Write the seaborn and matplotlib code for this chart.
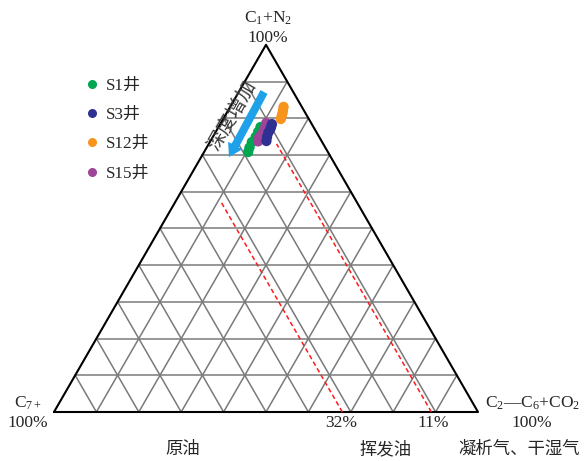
import numpy as np
import pandas as pd
import matplotlib
matplotlib.use("Agg")
import matplotlib.pyplot as plt
from matplotlib.lines import Line2D
import seaborn as sns

# Gas compositions (%): C1+N2 and C2-C6+CO2; C7+ is the remainder
wells = ["S1井", "S3井", "S12井", "S15井"]
s1_c1 = [77.6, 76.3, 74.9, 73.5, 72.0, 70.8]
s1_c2c6 = [9.9, 10.0, 10.1, 9.9, 10.1, 10.4]
s3_c1 = [78.4, 77.6, 76.9, 76.1, 74.9, 73.8]
s3_c2c6 = [12.2, 12.4, 12.5, 12.5, 12.8, 13.2]
s12_c1 = [83.1, 82.2, 81.4, 80.6, 79.8]
s12_c2c6 = [12.6, 12.9, 13.2, 13.4, 13.6]
s15_c1 = [78.7, 77.8, 76.8, 75.4, 74.6, 73.7]
s15_c2c6 = [10.7, 11.0, 11.1, 11.1, 11.0, 11.3]

# C7+ boundaries (%) separating oil / volatile oil / condensate gas
c7_bounds = [32, 11]
c7_bound_c1_top = [57, 73]
zone_names = ["原油", "挥发油", "凝析气、干湿气"]

colors = {"S1井": "#00a650", "S3井": "#2e3192", "S12井": "#f7941d", "S15井": "#a0449a"}

sns.set_theme(style="white")
plt.rcParams["font.family"] = ["Liberation Serif", "Noto Sans CJK SC"]
plt.rcParams["mathtext.fontset"] = "stix"
plt.rcParams["mathtext.default"] = "regular"

SQ = np.sqrt(3) / 2


def tern(c1, c2c6):
    """C1 fraction -> top vertex, C2-C6 fraction -> right vertex."""
    c1 = np.asarray(c1, float) / 100
    c2 = np.asarray(c2c6, float) / 100
    return c2 + c1 / 2, c1 * SQ


rows = []
for name, c1, c2 in [("S1井", s1_c1, s1_c2c6), ("S15井", s15_c1, s15_c2c6),
                     ("S3井", s3_c1, s3_c2c6), ("S12井", s12_c1, s12_c2c6)]:
    x, y = tern(c1, c2)
    for xi, yi in zip(x, y):
        rows.append({"well": name, "x": xi, "y": yi})
df = pd.DataFrame(rows)

W, H = 584, 461
S = 424.0          # triangle side in pixels
X0, Y0 = 54.0, 412.0


def px(X, Y):
    return (X - X0) / S, (Y0 - Y) / S


fig = plt.figure(figsize=(W / 100, H / 100), dpi=100)
ax = fig.add_axes([0, 0, 1, 1])
ax.set_xlim(-X0 / S, (W - X0) / S)
ax.set_ylim((Y0 - H) / S, Y0 / S)
ax.axis("off")

# internal grid at 10 % steps
grid_kw = dict(color="#7a7a7a", lw=1.1, zorder=1)
for k in range(1, 10):
    t = k / 10
    ax.plot(*tern([t * 100, t * 100], [0, (1 - t) * 100]), **grid_kw)      # constant C1
    ax.plot(*tern([0, (1 - t) * 100], [t * 100, t * 100]), **grid_kw)      # constant C2-C6
    ax.plot(*tern([0, (1 - t) * 100], [(1 - t) * 100, 0]), **grid_kw)      # constant C7+

# outer triangle
bx, by = tern([0, 0, 100, 0], [0, 100, 0, 0])
ax.plot(bx, by, color="black", lw=1.5, zorder=2)

# C7+ boundary lines
for c7, top in zip(c7_bounds, c7_bound_c1_top):
    lx, ly = tern([0, top], [100 - c7, 100 - c7 - top])
    ax.plot(lx, ly, color="#ff1a1a", lw=1.1, ls=(0, (3, 2)), zorder=3)

sns.scatterplot(data=df, x="x", y="y", hue="well", palette=colors,
                hue_order=["S1井", "S15井", "S3井", "S12井"],
                s=55, edgecolor="none", linewidth=0, legend=False, ax=ax, zorder=4)

# legend
handles = [Line2D([], [], ls="none", marker="o", ms=6.5, mfc=colors[w], mec="none") for w in wells]
ax.legend(handles, wells, loc="upper left", bbox_to_anchor=(73 / W, 1 - 69 / H),
          frameon=False, fontsize=12.3, labelspacing=0.78, handletextpad=0.25,
          handlelength=1.2, borderpad=0)

# depth arrow
tx, ty = px(264, 92)
hx, hy = px(229, 157)
ax.arrow(tx, ty, hx - tx, hy - ty, width=8 / S, head_width=16 / S, head_length=13 / S,
         length_includes_head=True, color="#1ea1e8", lw=0, zorder=5)
ax.text(*px(232, 115), "深度增加", rotation=60, rotation_mode="anchor",
        ha="center", va="center", fontsize=14, color="#3a3a3a",
        family=["Noto Sans CJK SC"])

fs = 12.5
ax.text(*px(268, 18), "C$_1$+N$_2$", ha="center", va="center", fontsize=fs)
ax.text(*px(268, 38), "100%", ha="center", va="center", fontsize=fs)
ax.text(*px(28, 403), "C$_{7+}$", ha="center", va="center", fontsize=fs)
ax.text(*px(28, 423), "100%", ha="center", va="center", fontsize=fs)
ax.text(*px(533, 403), "C$_2$—C$_6$+CO$_2$", ha="center", va="center", fontsize=fs)
ax.text(*px(532, 423), "100%", ha="center", va="center", fontsize=fs)
for c7, X in zip(c7_bounds, [341, 433]):
    ax.text(*px(X, 423), f"{c7}%", ha="center", va="center", fontsize=fs)
for name, X in zip(zone_names, [183, 386, 519]):
    ax.text(*px(X, 450), name, ha="center", va="center", fontsize=12.5)

fig.savefig("out.png", dpi=100, facecolor="white")
